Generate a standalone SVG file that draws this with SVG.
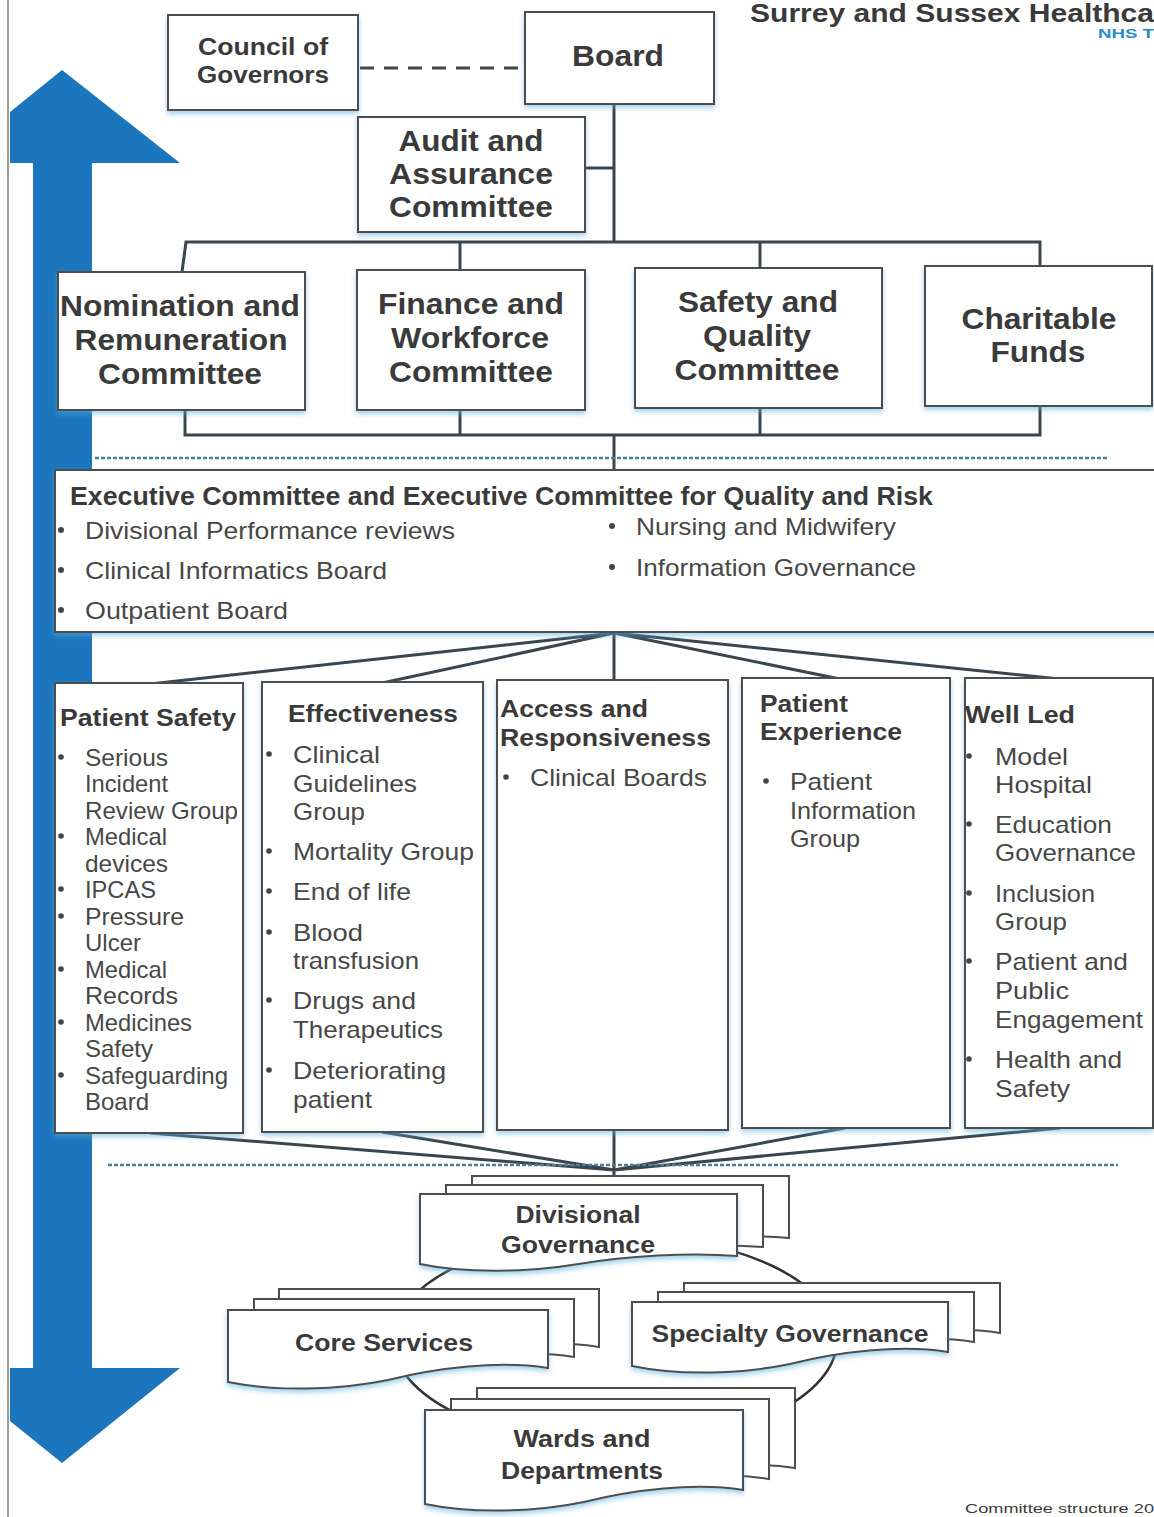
<svg xmlns="http://www.w3.org/2000/svg" xmlns:xlink="http://www.w3.org/1999/xlink" width="1154" height="1517" viewBox="0 0 1154 1517">
<style>
.bg{fill:#ffffff}
.box{fill:#ffffff;stroke:#4d4d4d;stroke-width:2;filter:url(#sh)}
.doc{fill:#ffffff;stroke:#4d4d4d;stroke-width:2}
.t{font-family:"Liberation Sans",Arial,sans-serif;fill:#3a3a3a}
.b{font-weight:bold}
.m{text-anchor:middle}
.c30{font-size:30px}
.c23{font-size:23px}
.c24{font-size:24px}
.it{font-size:24px;fill:#474747}
.conn{stroke:#3a464e;stroke-width:3;fill:none}
.dash{stroke:#4f7e93;stroke-width:2.5;stroke-dasharray:4 2;fill:none}
.bul{fill:#444}
</style>
<defs>
<filter id="sh" x="-10%" y="-10%" width="120%" height="130%">
<feDropShadow dx="0" dy="3" stdDeviation="2.5" flood-color="#5aaedb" flood-opacity="0.55"/>
</filter>
<path id="docDiv" d="M0,0 H317 V62 C269.5,58 206,62 158.5,70 C111,78 47.5,80 0,70 Z"/>
<path id="docCore" d="M0,0 H320 V58 C272,50 208,58 160,70 C112,80 48,82 0,72 Z"/>
<path id="docSpec" d="M0,0 H316 V50 C268.6,42 205.4,50 158,62 C110.6,72 47.4,74 0,64 Z"/>
<path id="docWard" d="M0,0 H318 V80 C270.3,72 206.7,80 159,92 C111.3,102 47.7,104 0,94 Z"/>
</defs>
<rect class="bg" x="0" y="0" width="1154" height="1517"/>
<line x1="8" y1="0" x2="8" y2="1517" stroke="#7a7a7a" stroke-width="1.5"/>

<g id="header">
<text class="t b" x="750" y="22" font-size="25" textLength="404" lengthAdjust="spacingAndGlyphs">Surrey and Sussex Healthca</text>
<text class="t b" x="1098" y="38" font-size="13" style="fill:#2a8bc9" textLength="56" lengthAdjust="spacingAndGlyphs">NHS T</text>
</g>

<g id="blue-arrow">
<polygon points="62,70 180,163 92,163 92,1368 180,1368 62,1463 10,1421 10,1368 33,1368 33,163 10,163 10,112" fill="#1b76bd"/>
</g>

<g id="connectors">
<line x1="360" y1="68" x2="523" y2="68" stroke="#454545" stroke-width="3" stroke-dasharray="14 10"/>
<path class="conn" d="M614,104 V242"/>
<path class="conn" d="M585,168 H614"/>
<path class="conn" d="M182,272 L186,242 H1040 V266"/>
<path class="conn" d="M460,242 V270 M760,242 V268"/>
<path class="conn" d="M185,410 V435 H1040 V406 M460,410 V435 M760,408 V435 M614,435 V470"/>
<path class="dash" d="M95,458 H1108"/>
<path class="conn" d="M614,633 L150,684 M614,633 L382,683 M614,633 V681 M614,633 L845,680 M614,633 L1060,679"/>
<path class="conn" d="M150,1133 L614,1170 M382,1132 L614,1170 M614,1130 V1197 M845,1128 L614,1170 M1060,1128 L614,1170"/>
<path class="dash" d="M108,1165 H1118"/>
<ellipse cx="615" cy="1340" rx="222" ry="105" fill="none" stroke="#333" stroke-width="2.5"/>
</g>

<g id="council">
<rect class="box" x="168" y="15" width="190" height="95"/>
<text class="t b m" x="263" y="55" font-size="23" textLength="130" lengthAdjust="spacingAndGlyphs">Council of</text>
<text class="t b m" x="263" y="83" font-size="23" textLength="132" lengthAdjust="spacingAndGlyphs">Governors</text>
</g>

<g id="board">
<rect class="box" x="525" y="12" width="189" height="92"/>
<text class="t b m c30" x="618" y="66" textLength="92" lengthAdjust="spacingAndGlyphs">Board</text>
</g>

<g id="audit">
<rect class="box" x="358" y="117" width="227" height="115"/>
<text class="t b m c30" x="471" y="151" textLength="145" lengthAdjust="spacingAndGlyphs">Audit and</text>
<text class="t b m c30" x="471" y="184" textLength="164" lengthAdjust="spacingAndGlyphs">Assurance</text>
<text class="t b m c30" x="471" y="217" textLength="164" lengthAdjust="spacingAndGlyphs">Committee</text>
</g>

<g id="nomination">
<rect class="box" x="58" y="272" width="247" height="138"/>
<text class="t b m c30" x="180" y="316" textLength="240" lengthAdjust="spacingAndGlyphs">Nomination and</text>
<text class="t b m c30" x="181" y="350" textLength="213" lengthAdjust="spacingAndGlyphs">Remuneration</text>
<text class="t b m c30" x="180" y="384" textLength="164" lengthAdjust="spacingAndGlyphs">Committee</text>
</g>

<g id="finance">
<rect class="box" x="357" y="270" width="228" height="140"/>
<text class="t b m c30" x="471" y="314" textLength="186" lengthAdjust="spacingAndGlyphs">Finance and</text>
<text class="t b m c30" x="470" y="348" textLength="158" lengthAdjust="spacingAndGlyphs">Workforce</text>
<text class="t b m c30" x="471" y="382" textLength="164" lengthAdjust="spacingAndGlyphs">Committee</text>
</g>

<g id="safety-quality">
<rect class="box" x="635" y="268" width="247" height="140"/>
<text class="t b m c30" x="758" y="312" textLength="160" lengthAdjust="spacingAndGlyphs">Safety and</text>
<text class="t b m c30" x="757" y="346" textLength="108" lengthAdjust="spacingAndGlyphs">Quality</text>
<text class="t b m c30" x="757" y="380" textLength="165" lengthAdjust="spacingAndGlyphs">Committee</text>
</g>

<g id="charitable">
<rect class="box" x="925" y="266" width="227" height="140"/>
<text class="t b m c30" x="1039" y="329" textLength="155" lengthAdjust="spacingAndGlyphs">Charitable</text>
<text class="t b m c30" x="1038" y="362" textLength="95" lengthAdjust="spacingAndGlyphs">Funds</text>
</g>

<g id="executive">
<rect class="box" x="55" y="470" width="1110" height="162"/>
<text class="t b" x="70" y="505" font-size="25" textLength="863" lengthAdjust="spacingAndGlyphs">Executive Committee and Executive Committee for Quality and Risk</text>
<circle class="bul" cx="61" cy="530" r="3"/>
<text class="t it" x="85" y="539" textLength="370" lengthAdjust="spacingAndGlyphs">Divisional Performance reviews</text>
<circle class="bul" cx="61" cy="570" r="3"/>
<text class="t it" x="85" y="579" textLength="302" lengthAdjust="spacingAndGlyphs">Clinical Informatics Board</text>
<circle class="bul" cx="61" cy="610" r="3"/>
<text class="t it" x="85" y="619" textLength="203" lengthAdjust="spacingAndGlyphs">Outpatient Board</text>
<circle class="bul" cx="612" cy="526" r="3"/>
<text class="t it" x="636" y="535" textLength="260" lengthAdjust="spacingAndGlyphs">Nursing and Midwifery</text>
<circle class="bul" cx="612" cy="567" r="3"/>
<text class="t it" x="636" y="576" textLength="280" lengthAdjust="spacingAndGlyphs">Information Governance</text>
</g>

<g id="patient-safety">
<rect class="box" x="55" y="683" width="188" height="450"/>
<text class="t b c24" x="60" y="726" textLength="176" lengthAdjust="spacingAndGlyphs">Patient Safety</text>
<circle class="bul" cx="61" cy="757" r="2.8"/>
<text class="t it" x="85" y="766" textLength="83" lengthAdjust="spacingAndGlyphs">Serious</text>
<text class="t it" x="85" y="792" textLength="83" lengthAdjust="spacingAndGlyphs">Incident</text>
<text class="t it" x="85" y="819" textLength="153" lengthAdjust="spacingAndGlyphs">Review Group</text>
<circle class="bul" cx="61" cy="836" r="2.8"/>
<text class="t it" x="85" y="845" textLength="82" lengthAdjust="spacingAndGlyphs">Medical</text>
<text class="t it" x="85" y="872" textLength="83" lengthAdjust="spacingAndGlyphs">devices</text>
<circle class="bul" cx="61" cy="889" r="2.8"/>
<text class="t it" x="85" y="898" textLength="71" lengthAdjust="spacingAndGlyphs">IPCAS</text>
<circle class="bul" cx="61" cy="916" r="2.8"/>
<text class="t it" x="85" y="925" textLength="99" lengthAdjust="spacingAndGlyphs">Pressure</text>
<text class="t it" x="85" y="951" textLength="56" lengthAdjust="spacingAndGlyphs">Ulcer</text>
<circle class="bul" cx="61" cy="969" r="2.8"/>
<text class="t it" x="85" y="978" textLength="82" lengthAdjust="spacingAndGlyphs">Medical</text>
<text class="t it" x="85" y="1004" textLength="93" lengthAdjust="spacingAndGlyphs">Records</text>
<circle class="bul" cx="61" cy="1022" r="2.8"/>
<text class="t it" x="85" y="1031" textLength="107" lengthAdjust="spacingAndGlyphs">Medicines</text>
<text class="t it" x="85" y="1057" textLength="68" lengthAdjust="spacingAndGlyphs">Safety</text>
<circle class="bul" cx="61" cy="1075" r="2.8"/>
<text class="t it" x="85" y="1084" textLength="143" lengthAdjust="spacingAndGlyphs">Safeguarding</text>
<text class="t it" x="85" y="1110" textLength="64" lengthAdjust="spacingAndGlyphs">Board</text>
</g>

<g id="effectiveness">
<rect class="box" x="262" y="682" width="221" height="450"/>
<text class="t b c24" x="288" y="722" textLength="170" lengthAdjust="spacingAndGlyphs">Effectiveness</text>
<circle class="bul" cx="269" cy="754" r="2.8"/>
<text class="t it" x="293" y="763" textLength="87" lengthAdjust="spacingAndGlyphs">Clinical</text>
<text class="t it" x="293" y="792" textLength="124" lengthAdjust="spacingAndGlyphs">Guidelines</text>
<text class="t it" x="293" y="820" textLength="72" lengthAdjust="spacingAndGlyphs">Group</text>
<circle class="bul" cx="269" cy="851" r="2.8"/>
<text class="t it" x="293" y="860" textLength="181" lengthAdjust="spacingAndGlyphs">Mortality Group</text>
<circle class="bul" cx="269" cy="891" r="2.8"/>
<text class="t it" x="293" y="900" textLength="118" lengthAdjust="spacingAndGlyphs">End of life</text>
<circle class="bul" cx="269" cy="932" r="2.8"/>
<text class="t it" x="293" y="941" textLength="70" lengthAdjust="spacingAndGlyphs">Blood</text>
<text class="t it" x="293" y="969" textLength="126" lengthAdjust="spacingAndGlyphs">transfusion</text>
<circle class="bul" cx="269" cy="1000" r="2.8"/>
<text class="t it" x="293" y="1009" textLength="123" lengthAdjust="spacingAndGlyphs">Drugs and</text>
<text class="t it" x="293" y="1038" textLength="150" lengthAdjust="spacingAndGlyphs">Therapeutics</text>
<circle class="bul" cx="269" cy="1070" r="2.8"/>
<text class="t it" x="293" y="1079" textLength="153" lengthAdjust="spacingAndGlyphs">Deteriorating</text>
<text class="t it" x="293" y="1108" textLength="79" lengthAdjust="spacingAndGlyphs">patient</text>
</g>

<g id="access">
<rect class="box" x="497" y="680" width="231" height="450"/>
<text class="t b c24" x="500" y="717" textLength="148" lengthAdjust="spacingAndGlyphs">Access and</text>
<text class="t b c24" x="500" y="746" textLength="211" lengthAdjust="spacingAndGlyphs">Responsiveness</text>
<circle class="bul" cx="506" cy="777" r="2.8"/>
<text class="t it" x="530" y="786" textLength="177" lengthAdjust="spacingAndGlyphs">Clinical Boards</text>
</g>

<g id="patient-experience">
<rect class="box" x="742" y="678" width="208" height="450"/>
<text class="t b c24" x="760" y="712" textLength="88" lengthAdjust="spacingAndGlyphs">Patient</text>
<text class="t b c24" x="760" y="740" textLength="142" lengthAdjust="spacingAndGlyphs">Experience</text>
<circle class="bul" cx="766" cy="781" r="2.8"/>
<text class="t it" x="790" y="790" textLength="82" lengthAdjust="spacingAndGlyphs">Patient</text>
<text class="t it" x="790" y="819" textLength="126" lengthAdjust="spacingAndGlyphs">Information</text>
<text class="t it" x="790" y="847" textLength="70" lengthAdjust="spacingAndGlyphs">Group</text>
</g>

<g id="well-led">
<rect class="box" x="965" y="678" width="188" height="450"/>
<text class="t b c24" x="965" y="723" textLength="110" lengthAdjust="spacingAndGlyphs">Well Led</text>
<circle class="bul" cx="969" cy="756" r="2.8"/>
<text class="t it" x="995" y="765" textLength="73" lengthAdjust="spacingAndGlyphs">Model</text>
<text class="t it" x="995" y="793" textLength="97" lengthAdjust="spacingAndGlyphs">Hospital</text>
<circle class="bul" cx="969" cy="824" r="2.8"/>
<text class="t it" x="995" y="833" textLength="117" lengthAdjust="spacingAndGlyphs">Education</text>
<text class="t it" x="995" y="861" textLength="141" lengthAdjust="spacingAndGlyphs">Governance</text>
<circle class="bul" cx="969" cy="893" r="2.8"/>
<text class="t it" x="995" y="902" textLength="100" lengthAdjust="spacingAndGlyphs">Inclusion</text>
<text class="t it" x="995" y="930" textLength="72" lengthAdjust="spacingAndGlyphs">Group</text>
<circle class="bul" cx="969" cy="961" r="2.8"/>
<text class="t it" x="995" y="970" textLength="133" lengthAdjust="spacingAndGlyphs">Patient and</text>
<text class="t it" x="995" y="999" textLength="74" lengthAdjust="spacingAndGlyphs">Public</text>
<text class="t it" x="995" y="1028" textLength="148" lengthAdjust="spacingAndGlyphs">Engagement</text>
<circle class="bul" cx="969" cy="1059" r="2.8"/>
<text class="t it" x="995" y="1068" textLength="127" lengthAdjust="spacingAndGlyphs">Health and</text>
<text class="t it" x="995" y="1097" textLength="75" lengthAdjust="spacingAndGlyphs">Safety</text>
</g>

<g id="divisional-governance">
<use xlink:href="#docDiv" href="#docDiv" class="doc" x="472" y="1176"/>
<use xlink:href="#docDiv" href="#docDiv" class="doc" x="446" y="1185"/>
<use xlink:href="#docDiv" href="#docDiv" class="doc" x="420" y="1194" filter="url(#sh)"/>
<text class="t b m c23" x="578" y="1223" textLength="125" lengthAdjust="spacingAndGlyphs">Divisional</text>
<text class="t b m c23" x="578" y="1253" textLength="154" lengthAdjust="spacingAndGlyphs">Governance</text>
</g>

<g id="core-services">
<use xlink:href="#docCore" href="#docCore" class="doc" x="279" y="1289"/>
<use xlink:href="#docCore" href="#docCore" class="doc" x="254" y="1299"/>
<use xlink:href="#docCore" href="#docCore" class="doc" x="228" y="1310" filter="url(#sh)"/>
<text class="t b m c23" x="384" y="1351" textLength="178" lengthAdjust="spacingAndGlyphs">Core Services</text>
</g>

<g id="specialty-governance">
<use xlink:href="#docSpec" href="#docSpec" class="doc" x="684" y="1283"/>
<use xlink:href="#docSpec" href="#docSpec" class="doc" x="658" y="1292"/>
<use xlink:href="#docSpec" href="#docSpec" class="doc" x="632" y="1302" filter="url(#sh)"/>
<text class="t b m c23" x="790" y="1342" textLength="277" lengthAdjust="spacingAndGlyphs">Specialty Governance</text>
</g>

<g id="wards-departments">
<use xlink:href="#docWard" href="#docWard" class="doc" x="477" y="1388"/>
<use xlink:href="#docWard" href="#docWard" class="doc" x="451" y="1399"/>
<use xlink:href="#docWard" href="#docWard" class="doc" x="425" y="1410" filter="url(#sh)"/>
<text class="t b m c23" x="582" y="1447" textLength="137" lengthAdjust="spacingAndGlyphs">Wards and</text>
<text class="t b m c23" x="582" y="1479" textLength="162" lengthAdjust="spacingAndGlyphs">Departments</text>
</g>

<g id="footer">
<text class="t" x="965" y="1513" font-size="13" textLength="189" lengthAdjust="spacingAndGlyphs">Committee  structure 20</text>
</g>
</svg>
